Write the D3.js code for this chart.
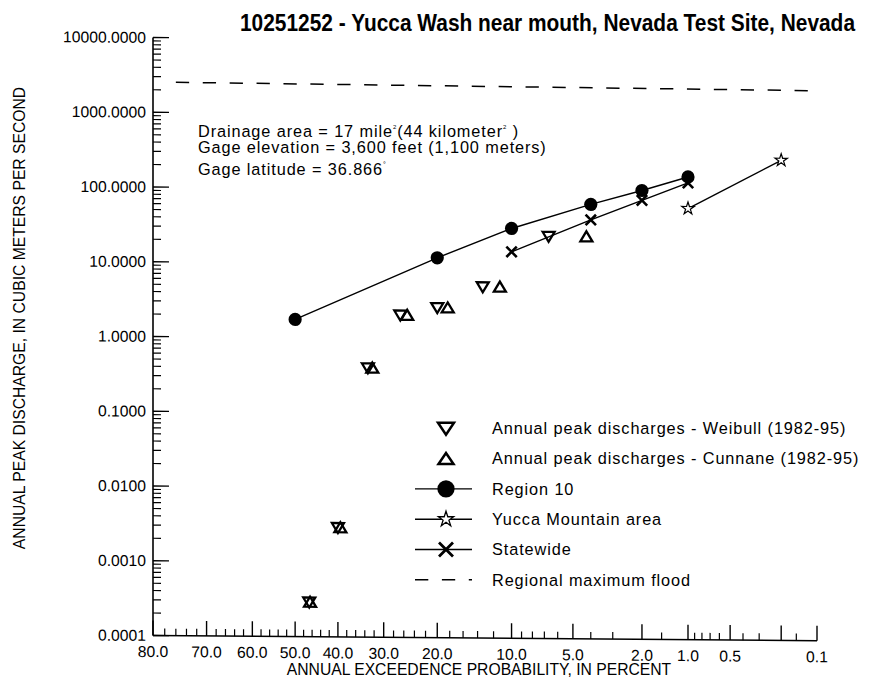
<!DOCTYPE html>
<html>
<head>
<meta charset="utf-8">
<script src="https://cdn.jsdelivr.net/npm/d3@7"></script>
<style>
  body { margin: 0; background: #fff; }
  svg text { font-family: "Liberation Sans", Arial, Helvetica, sans-serif; fill: #000; }
</style>
</head>
<body>
<div id="chart"></div>
<script>
// annual exceedance probability, in percent
const weibullProb = [6.67, 13.33, 20.0, 26.67, 33.33, 40.0, 46.67];
const cunnaneProb = [4.23, 11.27, 18.31, 25.35, 32.39, 39.44, 46.48];
const peakValues = [24, 5.0, 2.6, 2.05, 0.40, 0.0029, 0.00029];

const regionProb = [50, 20, 10, 4, 2, 1];
const regionValues = [1.75, 12.1, 30.4, 65, 101, 155];

const statewideProb = [10, 4, 2, 1];
const statewideValues = [14.8, 40.3, 74.7, 129];

const yuccaProb = [1, 0.2];
const yuccaValues = [58.6, 265];

const maxFloodProb = [76, 0.12];
const maxFloodValues = [2530, 2280];

// axis ticks
const xMajorTicks = [80, 70, 60, 50, 40, 30, 20, 10, 5, 2, 1, 0.5, 0.2, 0.1];
const xTickLabels = [80, 70, 60, 50, 40, 30, 20, 10, 5, 2, 1, 0.5, 0.1];
const xMinorTicks = [78, 76, 74, 72, 68, 66, 64, 62, 58, 56, 54, 52, 48, 46, 44, 42,
  38, 36, 34, 32, 28, 26, 24, 22, 18, 16, 14, 12, 9, 8, 7, 6, 4, 3, 1.5,
  0.9, 0.8, 0.7, 0.6, 0.4, 0.3, 0.15];
const yTickValues = [0.0001, 0.001, 0.01, 0.1, 1, 10, 100, 1000, 10000];

const titleText = "10251252 - Yucca Wash near mouth, Nevada Test Site, Nevada";
const xTitle = "ANNUAL EXCEEDENCE PROBABILITY, IN PERCENT";
const yTitle = "ANNUAL PEAK DISCHARGE, IN CUBIC METERS PER SECOND";
const legendLabels = [
  "Annual peak discharges - Weibull (1982-95)",
  "Annual peak discharges - Cunnane (1982-95)",
  "Region 10",
  "Yucca Mountain area",
  "Statewide",
  "Regional maximum flood"
];

const width = 870, height = 692;
const margin = { top: 37.5, right: 53, bottom: 56.5, left: 153 };
const innerWidth = width - margin.left - margin.right;
const innerHeight = height - margin.top - margin.bottom;

// inverse of the standard normal cdf (Acklam)
function normInv(p) {
  const a = [-39.69683028665376, 220.9460984245205, -275.9285104469687, 138.3577518672690, -30.66479806614716, 2.506628277459239];
  const b = [-54.47609879822406, 161.5858368580409, -155.6989798598866, 66.80131188771972, -13.28068155288572];
  const c = [-0.007784894002430293, -0.3223964580411365, -2.400758277161838, -2.549732539343734, 4.374664141464968, 2.938163982698783];
  const d = [0.007784695709041462, 0.3224671290700398, 2.445134137142996, 3.754408661907416];
  const pl = 0.02425;
  let q, r;
  if (p < pl) {
    q = Math.sqrt(-2 * Math.log(p));
    return (((((c[0]*q+c[1])*q+c[2])*q+c[3])*q+c[4])*q+c[5]) / ((((d[0]*q+d[1])*q+d[2])*q+d[3])*q+1);
  }
  if (p > 1 - pl) {
    q = Math.sqrt(-2 * Math.log(1 - p));
    return -(((((c[0]*q+c[1])*q+c[2])*q+c[3])*q+c[4])*q+c[5]) / ((((d[0]*q+d[1])*q+d[2])*q+d[3])*q+1);
  }
  q = p - 0.5; r = q * q;
  return (((((a[0]*r+a[1])*r+a[2])*r+a[3])*r+a[4])*r+a[5])*q / (((((b[0]*r+b[1])*r+b[2])*r+b[3])*r+b[4])*r+1);
}
const zOf = pct => normInv(1 - pct / 100);

const zScale = d3.scaleLinear()
  .domain([zOf(80), zOf(0.1)])
  .range([0, innerWidth]);
const x = pct => zScale(zOf(pct));

const y = d3.scaleLog()
  .domain([1e-4, 1e4])
  .range([innerHeight, 0]);

const svg = d3.select("#chart").append("svg")
  .attr("width", width)
  .attr("height", height);

// the scanned plot area sits a little askew
const cx0 = margin.left, cy0 = margin.top + innerHeight;
const plot = svg.append("g")
  .attr("transform", "translate(" + cx0 + "," + cy0 + ") skewY(0.45) translate(" + (-cx0) + "," + (-cy0) + ")");
const g = plot.append("g")
  .attr("transform", "translate(" + margin.left + "," + margin.top + ")");

// titles, notes and legend are placed where they sit on the page
const page = svg.append("g");

page.append("text")
  .attr("x", 240)
  .attr("y", 31)
  .attr("font-weight", "bold")
  .attr("font-size", 23)
  .attr("textLength", 615)
  .attr("lengthAdjust", "spacingAndGlyphs")
  .text(titleText);

// y axis (log), ticks pointing inward
const yAxis = g.append("g").attr("class", "y axis");
yAxis.append("line")
  .attr("x1", 0).attr("x2", 0)
  .attr("y1", 0).attr("y2", innerHeight)
  .attr("stroke", "#000").attr("stroke-width", 1.6);

const yMinor = [];
yTickValues.slice(0, -1).forEach(v => {
  for (let k = 2; k <= 9; k++) yMinor.push(v * k);
});
yAxis.selectAll(".minor").data(yMinor).enter().append("line")
  .attr("class", "minor")
  .attr("x1", 0).attr("x2", 8)
  .attr("y1", d => y(d)).attr("y2", d => y(d))
  .attr("stroke", "#000").attr("stroke-width", 1.2);
yAxis.selectAll(".major").data(yTickValues).enter().append("line")
  .attr("class", "major")
  .attr("x1", 0).attr("x2", 16)
  .attr("y1", d => y(d)).attr("y2", d => y(d))
  .attr("stroke", "#000").attr("stroke-width", 1.4);
yAxis.selectAll(".lbl").data(yTickValues).enter().append("text")
  .attr("class", "lbl")
  .attr("x", -7)
  .attr("y", d => y(d))
  .attr("dy", "0.35em")
  .attr("text-anchor", "end")
  .attr("font-size", 15.7)
  .text(d => d3.format(".4f")(d));

// x axis (normal probability)
const xAxis = g.append("g").attr("class", "x axis")
  .attr("transform", "translate(0," + innerHeight + ")");
xAxis.append("line")
  .attr("x1", 0).attr("x2", innerWidth)
  .attr("y1", 0).attr("y2", 0)
  .attr("stroke", "#000").attr("stroke-width", 1.6);
xAxis.selectAll(".minor").data(xMinorTicks).enter().append("line")
  .attr("class", "minor")
  .attr("x1", d => x(d)).attr("x2", d => x(d))
  .attr("y1", 0).attr("y2", -7)
  .attr("stroke", "#000").attr("stroke-width", 1.2);
xAxis.selectAll(".major").data(xMajorTicks).enter().append("line")
  .attr("class", "major")
  .attr("x1", d => x(d)).attr("x2", d => x(d))
  .attr("y1", 0).attr("y2", -15)
  .attr("stroke", "#000").attr("stroke-width", 1.4);
xAxis.selectAll(".lbl").data(xTickLabels).enter().append("text")
  .attr("class", "lbl")
  .attr("x", d => x(d))
  .attr("y", 21.5)
  .attr("text-anchor", "middle")
  .attr("font-size", 15.7)
  .text(d => d3.format(".1f")(d));

// axis titles
page.append("text")
  .attr("x", 479)
  .attr("y", 675)
  .attr("text-anchor", "middle")
  .attr("font-size", 15.7)
  .text(xTitle);
page.append("text")
  .attr("transform", "translate(25,318) rotate(-90)")
  .attr("text-anchor", "middle")
  .attr("font-size", 15.7)
  .text(yTitle);

// site notes
const notes = page.append("text")
  .attr("font-size", 16.3)
  .attr("letter-spacing", 0.9);
const n1 = notes.append("tspan").attr("x", 198).attr("y", 136.7);
n1.append("tspan").text("Drainage area = 17 mile");
n1.append("tspan").attr("font-size", 6).attr("dy", -8).text("2");
n1.append("tspan").attr("dy", 8).text("(44 kilometer");
n1.append("tspan").attr("font-size", 6).attr("dy", -8).text("2");
n1.append("tspan").attr("dy", 8).text(" )");
notes.append("tspan").attr("x", 198).attr("y", 153.3).text("Gage elevation = 3,600 feet (1,100 meters)");
const n3 = notes.append("tspan").attr("x", 198).attr("y", 175);
n3.append("tspan").text("Gage latitude = 36.866");
n3.append("tspan").attr("font-size", 7).attr("dy", -8).text("°");

// series
const zip = (ps, vs) => ps.map((p, i) => ({ p: p, v: vs[i] }));
const line = d3.line().x(d => x(d.p)).y(d => y(d.v));

const marks = g.append("g").attr("class", "marks");

marks.append("path")
  .datum(zip(maxFloodProb, maxFloodValues))
  .attr("d", line)
  .attr("fill", "none").attr("stroke", "#000")
  .attr("stroke-width", 1.5).attr("stroke-dasharray", "13.3,13.6");

[zip(regionProb, regionValues), zip(statewideProb, statewideValues), zip(yuccaProb, yuccaValues)]
  .forEach(s => {
    marks.append("path")
      .datum(s)
      .attr("d", line)
      .attr("fill", "none").attr("stroke", "#000").attr("stroke-width", 1.4);
  });

const triDown = "M-6,-4.6L6,-4.6L0,5.4Z";
const triUp = "M-6,4.6L6,4.6L0,-5.4Z";
const starPath = d3.symbol(d3.symbolStar, 48)();
const xPath = "M-5.2,-5.2L5.2,5.2M-5.2,5.2L5.2,-5.2";

marks.selectAll(".weibull").data(zip(weibullProb, peakValues)).enter().append("path")
  .attr("class", "weibull")
  .attr("d", triDown)
  .attr("transform", d => "translate(" + x(d.p) + "," + y(d.v) + ")")
  .attr("fill", "none").attr("stroke", "#000").attr("stroke-width", 2.3);

marks.selectAll(".cunnane").data(zip(cunnaneProb, peakValues)).enter().append("path")
  .attr("class", "cunnane")
  .attr("d", triUp)
  .attr("transform", d => "translate(" + x(d.p) + "," + y(d.v) + ")")
  .attr("fill", "none").attr("stroke", "#000").attr("stroke-width", 2.3);

marks.selectAll(".region").data(zip(regionProb, regionValues)).enter().append("circle")
  .attr("class", "region")
  .attr("cx", d => x(d.p)).attr("cy", d => y(d.v)).attr("r", 6.6)
  .attr("fill", "#000");

marks.selectAll(".statewide").data(zip(statewideProb, statewideValues)).enter().append("path")
  .attr("class", "statewide")
  .attr("d", xPath)
  .attr("transform", d => "translate(" + x(d.p) + "," + y(d.v) + ")")
  .attr("stroke", "#000").attr("stroke-width", 2.6);

marks.selectAll(".yucca").data(zip(yuccaProb, yuccaValues)).enter().append("path")
  .attr("class", "yucca")
  .attr("d", starPath)
  .attr("transform", d => "translate(" + x(d.p) + "," + y(d.v) + ")")
  .attr("fill", "#fff").attr("stroke", "#000").attr("stroke-width", 1.2);

// legend
const legend = page.append("g").attr("class", "legend");
const rowY = i => 428.3 + i * 30.3;
const symX = 446, lineX1 = 415, lineX2 = 472;

legendLabels.forEach((label, i) => {
  const row = legend.append("g").attr("transform", "translate(0," + rowY(i) + ")");
  if (i >= 2 && i <= 4) {
    row.append("line").attr("x1", lineX1).attr("x2", lineX2)
      .attr("stroke", "#000").attr("stroke-width", 1.4);
  }
  if (i === 0) {
    row.append("path").attr("d", "M-8,-5.6L8,-5.6L0,6.4Z")
      .attr("transform", "translate(" + symX + ",0)")
      .attr("fill", "none").attr("stroke", "#000").attr("stroke-width", 2.5);
  } else if (i === 1) {
    row.append("path").attr("d", "M-7.5,5.4L7.5,5.4L0,-5.6Z")
      .attr("transform", "translate(" + symX + ",0)")
      .attr("fill", "none").attr("stroke", "#000").attr("stroke-width", 2.5);
  } else if (i === 2) {
    row.append("circle").attr("cx", symX).attr("cy", 0).attr("r", 8.6).attr("fill", "#000");
  } else if (i === 3) {
    row.append("path").attr("d", d3.symbol(d3.symbolStar, 72)())
      .attr("transform", "translate(" + symX + ",0)")
      .attr("fill", "#fff").attr("stroke", "#000").attr("stroke-width", 1.3);
  } else if (i === 4) {
    row.append("path").attr("d", "M-7,-7L7,7M-7,7L7,-7")
      .attr("transform", "translate(" + symX + ",0)")
      .attr("stroke", "#000").attr("stroke-width", 2.8);
  } else {
    row.append("line").attr("x1", lineX1).attr("x2", lineX2)
      .attr("stroke", "#000").attr("stroke-width", 1.5)
      .attr("stroke-dasharray", "13.3,13.6");
  }
  row.append("text")
    .attr("x", 492)
    .attr("dy", "0.36em")
    .attr("font-size", 16.3)
    .attr("letter-spacing", 0.9)
    .text(label);
});
</script>
</body>
</html>
